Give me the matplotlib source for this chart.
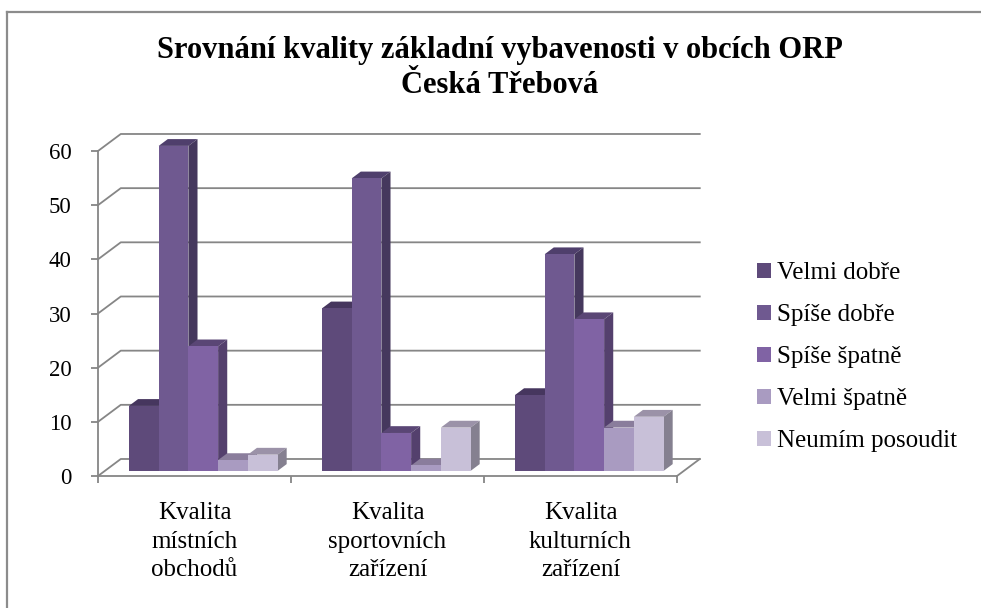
import matplotlib
matplotlib.use("Agg")
import matplotlib.pyplot as plt
from matplotlib.patches import Polygon
from matplotlib.lines import Line2D

plt.rcParams['font.family'] = ['Liberation Serif', 'DejaVu Serif']

# data
categories = ["Kvalita\nmístních\nobchodů", "Kvalita\nsportovních\nzařízení", "Kvalita\nkulturních\nzařízení"]
series_names = ["Velmi dobře", "Spíše dobře", "Spíše špatně", "Velmi špatně", "Neumím posoudit"]
velmi_dobre = [12, 30, 14]
spise_dobre = [60, 54, 40]
spise_spatne = [23, 7, 28]
velmi_spatne = [2, 1, 8]
neumim_posoudit = [3, 8, 10]
y_ticks = [0, 10, 20, 30, 40, 50, 60]

series_values = [velmi_dobre, spise_dobre, spise_spatne, velmi_spatne, neumim_posoudit]
front_colors = ['#5E4A7A', '#6F5990', '#8063A4', '#A99BC1', '#C8C0D8']
top_colors = ['#46365E', '#4F3F6C', '#5A4675', '#8A7D9C', '#9B92A8']
side_colors = ['#45355A', '#45385D', '#54406D', '#7D7290', '#858090']

W, H = 981, 608
fig = plt.figure(figsize=(W / 100, H / 100), dpi=100)
# front plane of the 3d box
ax = fig.add_axes([98 / W, (H - 476) / H, 579 / W, 325 / H])
ax.set_xlim(0, 3)
ax.set_ylim(0, 60)

grid_col = '#868686'
# depth of the box (category units / value units)
dx, dy = 0.118, 3.14
t0, t1 = 0.3, 0.7

# back wall gridlines + floor
for v in y_ticks:
    ax.plot([0, dx, 3 + dx], [v, v + dy, v + dy], color=grid_col, lw=1.3,
            clip_on=False, zorder=1)
ax.plot([3, 3 + dx], [0, dy], color=grid_col, lw=1.3, clip_on=False, zorder=1)

# 3d columns
bw = 0.154
start = 0.125 + t0 * dx
bx, by = t0 * dx, t0 * dy
ddx, ddy = (t1 - t0) * dx, (t1 - t0) * dy
for j, vals in enumerate(series_values):
    lefts = [g + start + j * bw for g in range(len(categories))]
    ax.bar(lefts, vals, bw, bottom=by, align='edge', color=front_colors[j],
           label=series_names[j], zorder=3 + j, clip_on=False, linewidth=0)
    for x, h in zip(lefts, vals):
        top = Polygon([(x, h + by), (x + bw, h + by), (x + bw + ddx, h + by + ddy),
                       (x + ddx, h + by + ddy)], closed=True, color=top_colors[j],
                      lw=0, zorder=2.5 + j, clip_on=False)
        side = Polygon([(x + bw, by), (x + bw, h + by), (x + bw + ddx, h + by + ddy),
                        (x + bw + ddx, by + ddy)], closed=True, color=side_colors[j],
                       lw=0, zorder=2.5 + j, clip_on=False)
        ax.add_patch(top)
        ax.add_patch(side)

# axes styling
for s in ['top', 'right']:
    ax.spines[s].set_visible(False)
for s in ['left', 'bottom']:
    ax.spines[s].set_color(grid_col)
    ax.spines[s].set_linewidth(1.3)
ax.patch.set_alpha(0)
ax.set_yticks(y_ticks)
ax.set_yticklabels([str(t) for t in y_ticks], fontsize=16.5)
ax.tick_params(axis='y', direction='out', length=5, width=1.3, color=grid_col, pad=14)
ax.set_xticks([0, 1, 2, 3])
ax.set_xticklabels([])
ax.tick_params(axis='x', which='major', direction='out', length=5, width=1.3, color=grid_col)
ax.set_xticks([0.5, 1.5, 2.5], minor=True)
ax.set_xticklabels(categories, minor=True, fontsize=18, linespacing=1.36)
ax.tick_params(axis='x', which='minor', length=0, pad=19)

# title
fig.text(500 / W, 1 - 68 / H, "Srovnání kvality základní vybavenosti v obcích ORP\nČeská Třebová",
         ha='center', va='center', fontsize=22, fontweight='bold', linespacing=1.24)

# legend
fig.legend(loc='upper left', bbox_to_anchor=(757 / W, 1 - 262 / H), frameon=False,
           fontsize=18, handlelength=0.55, handleheight=0.55, handletextpad=0.25,
           labelspacing=0.8, borderpad=0, borderaxespad=0)

# chart border (only top and left visible in this crop)
fig.add_artist(Line2D([7 / W, 1.0], [1 - 12 / H, 1 - 12 / H], transform=fig.transFigure,
                      color='#8C8C8C', lw=1.6))
fig.add_artist(Line2D([7 / W, 7 / W], [0, 1 - 12 / H], transform=fig.transFigure,
                      color='#8C8C8C', lw=1.6))

fig.savefig('out.png', dpi=100)
